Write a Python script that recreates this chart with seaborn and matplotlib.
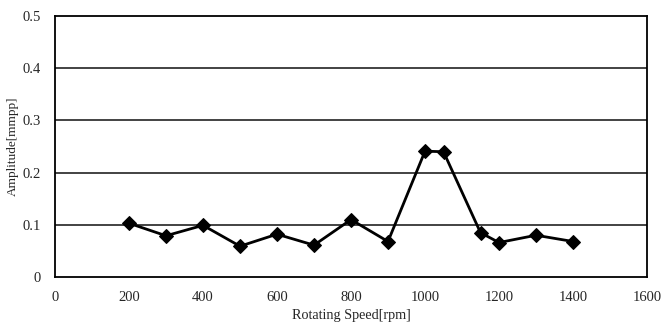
import matplotlib
matplotlib.use("Agg")
import matplotlib.pyplot as plt
import seaborn as sns
import pandas as pd

speed = [200, 300, 400, 500, 600, 700, 800, 900, 1000, 1050, 1150, 1200, 1300, 1400]
amplitude = [0.103, 0.079, 0.099, 0.059, 0.082, 0.061, 0.110, 0.068, 0.241, 0.240, 0.085, 0.066, 0.080, 0.068]
x_ticks = [0, 200, 400, 600, 800, 1000, 1200, 1400, 1600]
y_ticks = [0, 0.1, 0.2, 0.3, 0.4, 0.5]
y_tick_labels = ["0", "0.1", "0.2", "0.3", "0.4", "0.5"]

sns.set_style("white")
plt.rcParams['font.family'] = ['Liberation Serif', 'DejaVu Serif']

df = pd.DataFrame({"speed": speed, "amp": amplitude})
fig = plt.figure(figsize=(6.61, 3.25), dpi=100)
ax = fig.add_axes([55/661, 48/325, 592/661, 261/325])

for y in y_ticks[1:-1]:
    ax.axhline(y, color="#222222", linewidth=1.2, zorder=1)

sns.lineplot(data=df, x="speed", y="amp", ax=ax, color="black", linewidth=2,
             marker="D", markersize=7, markeredgecolor="black", markerfacecolor="black", zorder=3)

ax.set_xlim(0, 1600)
ax.set_ylim(0, 0.5)
ax.set_xticks(x_ticks)
ax.set_xticklabels([str(t) for t in x_ticks], fontsize=10.5)
ax.set_yticks(y_ticks)
ax.set_yticklabels(y_tick_labels, fontsize=10.5)
ax.tick_params(axis="x", direction="in", length=4, width=1, color="black", pad=10)
ax.tick_params(axis="y", length=0, pad=10)
for s in ax.spines.values():
    s.set_color("black")
    s.set_linewidth(1.3)
ax.set_xlabel("Rotating Speed[rpm]", fontsize=10.2, labelpad=4)
ax.set_ylabel("Amplitude[mmpp]", fontsize=9.5)
ax.yaxis.set_label_coords(-0.061, 0.5)

fig.savefig("out.png", dpi=100)
